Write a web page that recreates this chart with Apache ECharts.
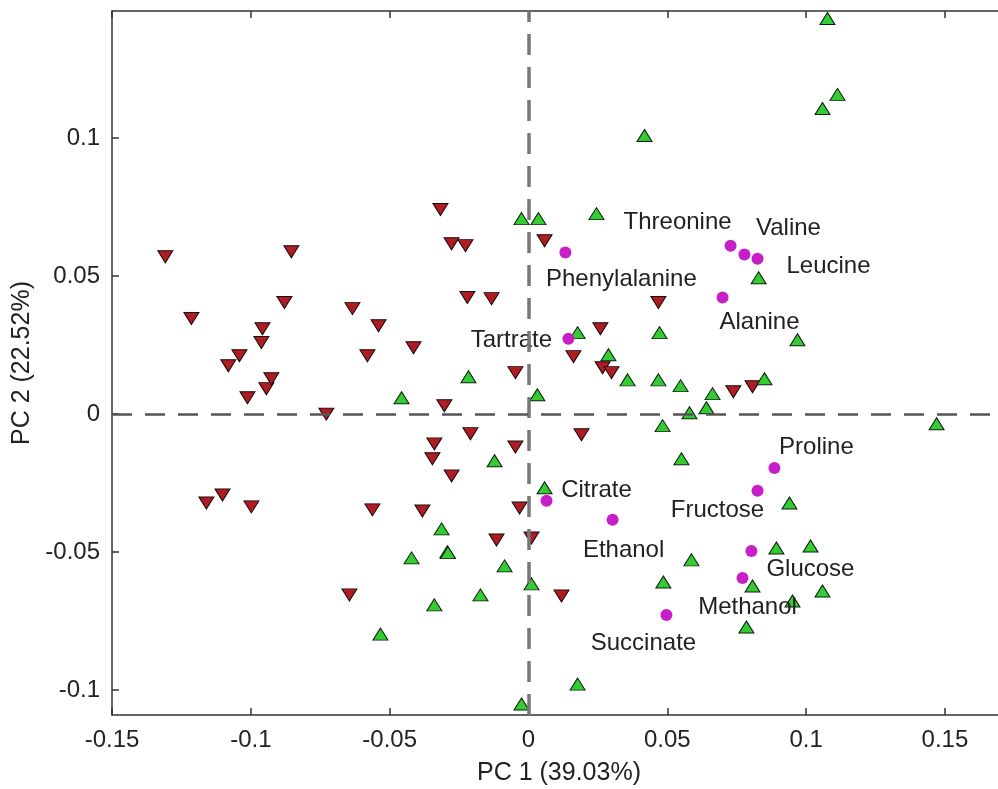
<!DOCTYPE html>
<html>
<head>
<meta charset="utf-8">
<script src="https://cdn.jsdelivr.net/npm/echarts@6/dist/echarts.min.js"></script>
<style>
  html, body { margin: 0; padding: 0; background: #fff; }
  #chart { width: 998px; height: 789px; }
</style>
</head>
<body>
<div id="chart"></div>
<script>
// PC1 / PC2 scores, one [x, y] pair per sample
const redSamples = [
  [-0.1308, 0.0570], [-0.1214, 0.0346], [-0.1081, 0.0175], [-0.1041, 0.0211],
  [-0.1012, 0.0059], [-0.0962, 0.0259], [-0.0958, 0.0309], [-0.0944, 0.0092],
  [-0.0926, 0.0128], [-0.0854, 0.0588], [-0.0879, 0.0404], [-0.0728, 0.0000],
  [-0.1160, -0.0322], [-0.1102, -0.0293], [-0.0998, -0.0336], [-0.0634, 0.0382],
  [-0.0580, 0.0211], [-0.0540, 0.0320], [-0.0414, 0.0240], [-0.0317, 0.0741],
  [-0.0277, 0.0617], [-0.0227, 0.0610], [-0.0220, 0.0422], [-0.0133, 0.0418],
  [-0.0303, 0.0030], [-0.0047, 0.0150], [-0.0339, -0.0108], [-0.0346, -0.0162],
  [-0.0209, -0.0071], [-0.0277, -0.0224], [-0.0047, -0.0119], [-0.0562, -0.0347],
  [-0.0382, -0.0351], [-0.0645, -0.0655], [-0.0115, -0.0456], [-0.0032, -0.0340],
  [0.0011, -0.0449], [0.0119, -0.0659], [0.0058, 0.0628], [0.0191, -0.0075],
  [0.0162, 0.0208], [0.0259, 0.0309], [0.0267, 0.0168], [0.0299, 0.0150],
  [0.0468, 0.0404], [0.0738, 0.0081], [0.0807, 0.0099]
];

const greenSamples = [
  [0.1077, 0.1433], [0.1113, 0.1158], [0.1059, 0.1107], [0.0418, 0.1009],
  [-0.0025, 0.0708], [0.0036, 0.0708], [0.0245, 0.0726], [0.0829, 0.0494],
  [0.0969, 0.0269], [0.0177, 0.0295], [0.0472, 0.0295], [0.0288, 0.0215],
  [0.0357, 0.0124], [0.0468, 0.0124], [0.0548, 0.0103], [0.0663, 0.0074],
  [0.0850, 0.0128], [0.0641, 0.0023], [0.0580, 0.0005], [0.0483, -0.0042],
  [0.1470, -0.0035], [0.0551, -0.0162], [0.0940, -0.0322], [-0.0216, 0.0135],
  [-0.0457, 0.0059], [0.0032, 0.0070], [-0.0122, -0.0169], [0.0058, -0.0267],
  [-0.0313, -0.0416], [-0.0292, -0.0499], [-0.0290, -0.0502], [-0.0421, -0.0521],
  [-0.0086, -0.0550], [0.0011, -0.0615], [-0.0173, -0.0655], [-0.0339, -0.0691],
  [-0.0533, -0.0797], [0.0177, -0.0978], [-0.0025, -0.1050], [0.0486, -0.0608],
  [0.0587, -0.0528], [0.0893, -0.0485], [0.1016, -0.0478], [0.0807, -0.0623],
  [0.1059, -0.0641], [0.0951, -0.0677], [0.0785, -0.0771]
];

// loadings of the metabolites
const metaboliteNames = ['Threonine', 'Valine', 'Leucine', 'Phenylalanine', 'Alanine', 'Tartrate',
  'Proline', 'Fructose', 'Citrate', 'Ethanol', 'Glucose', 'Methanol', 'Succinate'];
const metaboliteX = [0.0728, 0.0778, 0.0825, 0.0133, 0.0699, 0.0144,
  0.0886, 0.0825, 0.0065, 0.0303, 0.0803, 0.0771, 0.0497];
const metaboliteY = [0.0610, 0.0578, 0.0563, 0.0585, 0.0422, 0.0273,
  -0.0195, -0.0278, -0.0314, -0.0383, -0.0496, -0.0594, -0.0728];

// where each name sits relative to its dot (px)
const labelOffsets = [[-53, -23], [44, -26], [71, 8], [56, 27], [37, 25], [-57, 2],
  [42, -21], [-40, 20], [50, -10], [11, 31], [59, 18], [5, 29], [-23, 28]];

const xTickStep = 0.05;

const font = 'Liberation Sans, Arial, Helvetica, sans-serif';
const textColor = '#222';
const frame = { color: '#333', width: 1.5 };

const chart = echarts.init(document.getElementById('chart'));

const metaboliteData = metaboliteNames.map((name, i) => ({
  name: name,
  value: [metaboliteX[i], metaboliteY[i]],
  label: { offset: labelOffsets[i] }
}));

const tickLabel = { fontFamily: font, fontSize: 24, color: textColor };

chart.setOption({
  animation: false,
  grid: { left: 112, top: 11, width: 894, height: 704, outerBoundsMode: 'none', containLabel: false },
  xAxis: [
    {
      type: 'value',
      min: -0.15,
      max: 0.172,
      interval: xTickStep,
      position: 'bottom',
      name: 'PC 1 (39.03%)',
      nameLocation: 'middle',
      nameGap: 46,
      nameTextStyle: { fontFamily: font, fontSize: 25, color: textColor },
      axisLine: { show: true, onZero: false, lineStyle: frame },
      axisTick: { inside: true, length: 7, lineStyle: frame },
      axisLabel: Object.assign({ margin: 13, showMaxLabel: false }, tickLabel),
      splitLine: { show: false }
    },
    {
      type: 'value',
      min: -0.15,
      max: 0.172,
      interval: xTickStep,
      position: 'top',
      axisLine: { show: true, onZero: false, lineStyle: frame },
      axisTick: { inside: true, length: 7, lineStyle: frame },
      axisLabel: { show: false },
      splitLine: { show: false }
    }
  ],
  yAxis: {
    type: 'value',
    min: -0.109,
    max: 0.146,
    splitNumber: 5,
    name: 'PC 2 (22.52%)',
    nameLocation: 'middle',
    nameGap: 76,
    nameTextStyle: { fontFamily: font, fontSize: 25, color: textColor },
    axisLine: { show: true, onZero: false, lineStyle: frame },
    axisTick: { inside: true, length: 7, lineStyle: frame },
    axisLabel: Object.assign({ margin: 12, showMinLabel: false, showMaxLabel: false }, tickLabel),
    splitLine: { show: false }
  },
  series: [
    {
      name: 'zero lines',
      type: 'scatter',
      data: [],
      z: 1,
      markLine: {
        silent: true,
        symbol: 'none',
        label: { show: false },
        data: [
          { xAxis: 0, lineStyle: { color: '#777', width: 3.5, type: [21, 12], opacity: 1 } },
          { yAxis: 0, lineStyle: { color: '#555', width: 2.5, type: [20, 13], opacity: 1 } }
        ]
      }
    },
    {
      name: 'red samples',
      type: 'scatter',
      z: 3,
      symbol: 'triangle',
      symbolRotate: 180,
      symbolSize: [15, 12],
      itemStyle: { color: '#b01c24', borderColor: '#1a0a0a', borderWidth: 1, opacity: 1 },
      data: redSamples
    },
    {
      name: 'green samples',
      type: 'scatter',
      z: 3,
      symbol: 'triangle',
      symbolSize: [15, 12],
      itemStyle: { color: '#33cc33', borderColor: '#0c1f0c', borderWidth: 1, opacity: 1 },
      data: greenSamples
    },
    {
      name: 'metabolites',
      type: 'scatter',
      z: 4,
      symbol: 'circle',
      symbolSize: 12,
      itemStyle: { color: '#c81ec8', opacity: 1 },
      label: {
        show: true,
        position: 'inside',
        formatter: '{b}',
        fontFamily: font,
        fontSize: 24,
        color: '#222',
        opacity: 1
      },
      data: metaboliteData
    }
  ]
});
</script>
</body>
</html>
